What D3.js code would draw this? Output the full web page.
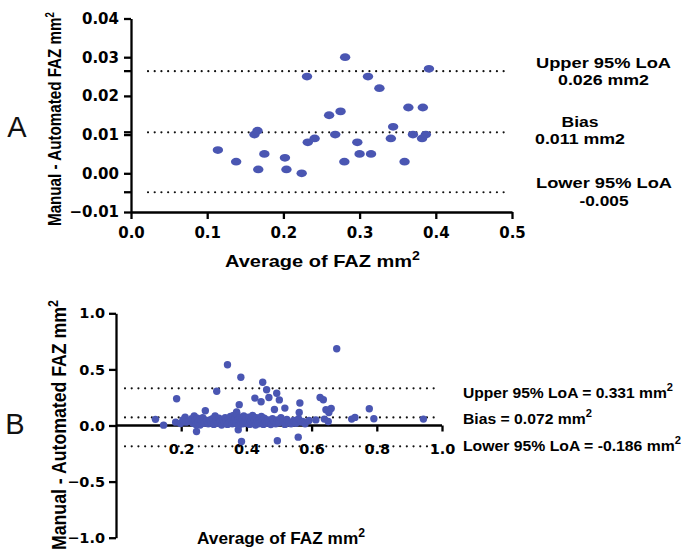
<!DOCTYPE html>
<html><head><meta charset="utf-8">
<script src="https://cdn.jsdelivr.net/npm/d3@7"></script>
<style>body{margin:0;background:#fff}svg{display:block}</style>
</head><body>
<svg id="c" width="685" height="559"></svg>
<script>
// ---------- Panel A data ----------
const aAverage = [0.114,0.138,0.167,0.162,0.166,0.175,0.202,0.204,0.224,0.231,0.232,0.241,0.260,0.268,0.275,0.281,0.280,0.297,0.300,0.311,0.315,0.326,0.341,0.344,0.359,0.364,0.370,0.383,0.382,0.387,0.391];
const aDiff    = [0.006,0.003,0.001,0.010,0.011,0.005,0.004,0.001,0.000,0.025,0.008,0.009,0.015,0.010,0.016,0.030,0.003,0.008,0.005,0.025,0.005,0.022,0.009,0.012,0.003,0.017,0.010,0.017,0.009,0.010,0.027];
const aXTicks = [0,0.1,0.2,0.3,0.4,0.5];
const aYTicks = [-0.01,0,0.01,0.02,0.03,0.04];
const aLines  = [0.0264,0.0106,-0.0049];   // upper LoA, bias, lower LoA

// ---------- Panel B data ----------
const bAverage = [0.121,0.146,0.186,0.183,0.198,0.212,0.247,0.274,0.309,0.342,0.383,0.378,0.370,0.375,0.385,
 0.426,0.450,0.462,0.469,0.493,0.501,0.445,0.486,0.518,0.564,0.562,0.626,0.636,0.644,0.660,0.653,0.495,0.559,0.573,0.613,0.639,0.651,0.677,0.777,0.723,0.733,0.791,0.943,
 0.205,0.215,
 0.225,0.232,0.236,0.240,0.243,0.245,0.250,0.252,0.256,0.258,0.262,0.266,
 0.270,0.278,0.283,0.288,0.292,0.296,0.300,0.304,0.308,0.312,0.316,0.320,0.324,0.328,
 0.332,0.335,0.338,0.342,0.345,0.348,0.351,0.354,0.357,0.360,0.362,0.365,0.368,0.371,0.374,0.377,0.380,0.383,0.386,0.389,0.392,0.395,0.398,
 0.401,0.404,0.407,0.410,0.413,0.416,0.419,0.422,0.425,0.428,0.431,0.434,0.437,0.440,0.443,0.446,0.449,0.452,0.455,0.458,0.462,0.466,
 0.470,0.475,0.480,0.485,0.490,0.495,0.500,0.506,0.512,0.518,0.524,0.530,0.537,0.545,0.552,0.560,0.568,0.580,0.592];
const bDiff = [0.055,0.003,0.238,0.030,0.018,0.075,-0.053,0.131,0.305,0.541,0.430,0.186,0.120,-0.038,-0.142,
 0.244,0.385,0.318,0.250,0.288,0.228,0.212,0.142,0.155,0.200,0.116,0.250,0.230,0.140,0.152,0.116,-0.136,-0.104,0.036,0.050,0.057,0.036,0.684,0.149,0.057,0.072,0.060,0.057,
 0.050,0.030,
 0.040,0.060,0.020,0.085,0.045,0.010,0.065,0.030,0.050,0.005,0.040,0.070,
 0.020,0.045,0.015,0.050,0.030,0.060,0.010,0.085,0.040,0.020,0.065,0.035,0.005,0.050,
 0.025,0.070,0.040,0.010,0.055,0.030,0.080,0.045,0.015,0.090,0.035,0.060,0.020,0.100,0.050,0.005,0.070,0.030,0.055,0.015,0.085,0.040,0.060,
 0.020,0.045,0.075,0.010,0.035,0.060,0.090,0.025,0.050,0.005,0.070,0.040,0.015,0.055,0.030,0.080,0.045,0.010,0.065,0.035,0.020,0.050,
 0.030,0.008,0.060,0.035,0.015,0.050,0.025,0.070,0.040,0.010,0.055,0.030,0.015,0.045,0.020,0.060,0.030,0.015,0.045];
const bXTicks = [0.2,0.4,0.6,0.8,1.0];
const bYTicks = [-1.0,-0.5,0.0,0.5,1.0];
const bLines  = [0.331,0.072,-0.186];

const dotColor = "#4a56b2";
const svg = d3.select("#c");
const boldWide = "'DejaVu Sans', sans-serif";
const arial = "'Liberation Sans', Arial, sans-serif";

function fit(sel, len){ sel.attr("textLength", len).attr("lengthAdjust","spacingAndGlyphs"); return sel; }
// condense a (rotated) text by a horizontal scale so its length equals len
function fitScale(sel, len, base){
  const nat = sel.node().getComputedTextLength();
  sel.attr("transform", `${base} scale(${(len/nat).toFixed(4)},1)`);
}
function styleAxis(g){
  g.select(".domain").attr("stroke","#000").attr("stroke-width",2.3);
  g.selectAll(".tick line").attr("stroke","#000").attr("stroke-width",2.3);
  g.selectAll(".tick text").attr("fill","#000").attr("font-weight","bold");
}
function dotted(g, x1, x2, y){
  g.append("line").attr("x1",x1).attr("x2",x2).attr("y1",y).attr("y2",y)
    .attr("stroke","#111").attr("stroke-width",2.2).attr("stroke-linecap","round")
    .attr("stroke-dasharray","0.01 6.7");
}

// ================= Panel A =================
const ax = d3.scaleLinear().domain([0,0.5]).range([131,512]);
const ay = d3.scaleLinear().domain([-0.01,0.04]).range([212,18.5]);
const gA = svg.append("g");

aLines.forEach(v => dotted(gA, 148, 505, ay(v)));

const aYAxis = gA.append("g").attr("transform","translate(131,0)")
  .call(d3.axisLeft(ay).tickValues(aYTicks).tickFormat(d3.format(".2f")).tickSize(7).tickSizeOuter(0).tickPadding(5));
styleAxis(aYAxis);
aYAxis.selectAll(".tick text").attr("font-family",boldWide).attr("font-size",15);
aYAxis.selectAll(".loa").data(aLines).enter().append("line").attr("class","loa")
  .attr("x1",-7).attr("x2",0).attr("y1",d=>ay(d)).attr("y2",d=>ay(d))
  .attr("stroke","#000").attr("stroke-width",2.3);

const aXAxis = gA.append("g").attr("transform","translate(0,212)")
  .call(d3.axisBottom(ax).tickValues(aXTicks).tickFormat(d3.format(".1f")).tickSize(7).tickSizeOuter(0).tickPadding(8));
styleAxis(aXAxis);
aXAxis.selectAll(".tick text").attr("font-family",boldWide).attr("font-size",15);

gA.selectAll("ellipse").data(aAverage).enter().append("ellipse")
  .attr("cx",d=>ax(d)).attr("cy",(d,i)=>ay(aDiff[i])).attr("rx",5.2).attr("ry",3.9)
  .attr("fill",dotColor);

const aYT = gA.append("text")
  .attr("font-family",arial).attr("font-weight","bold").attr("font-size",19).attr("fill","#000");
aYT.append("tspan").text("Manual - Automated FAZ mm");
aYT.append("tspan").attr("dy",-7).attr("font-size",12).text("2");
fitScale(aYT, 214, "translate(61,226) rotate(-90)");

const aXT = gA.append("text").attr("x",225).attr("y",267)
  .attr("font-family",arial).attr("font-weight","bold").attr("font-size",17).attr("fill","#000");
aXT.append("tspan").text("Average of FAZ mm");
aXT.append("tspan").attr("dy",-7).attr("font-size",12).text("2");
fit(aXT, 195);

const aNotes = [
  {t:"Upper 95% LoA", x:603.5, y:67.5, w:135},
  {t:"0.026 mm2", x:603.5, y:85, w:91},
  {t:"Bias", x:580, y:126.5, w:37},
  {t:"0.011 mm2", x:580, y:144, w:90},
  {t:"Lower 95% LoA", x:604, y:188, w:136},
  {t:"-0.005", x:604, y:205.5, w:49}
];
aNotes.forEach(n => {
  fit(gA.append("text").attr("x",n.x).attr("y",n.y).attr("text-anchor","middle")
    .attr("font-family",arial).attr("font-weight","bold").attr("font-size",14).attr("fill","#000").text(n.t), n.w);
});
gA.append("text").attr("x",17).attr("y",137).attr("text-anchor","middle")
  .attr("font-family",arial).attr("font-size",29).attr("fill","#111").text("A");

// ================= Panel B =================
const bx = d3.scaleLinear().domain([0,1.0]).range([116,442]);
const by = d3.scaleLinear().domain([-1,1]).range([537.7,313.3]);
const gB = svg.append("g");

bLines.forEach(v => dotted(gB, 125, 437, by(v)));

const bYAxis = gB.append("g").attr("transform","translate(116,0)")
  .call(d3.axisLeft(by).tickValues(bYTicks).tickFormat(d3.format(".1f")).tickSize(7).tickSizeOuter(0).tickPadding(4));
styleAxis(bYAxis);
bYAxis.selectAll(".tick text").attr("font-family",boldWide).attr("font-size",14.5);

const bXAxis = gB.append("g").attr("transform",`translate(0,${by(0)})`)
  .call(d3.axisBottom(bx).tickValues(bXTicks).tickFormat(d3.format(".1f")).tickSize(6).tickSizeOuter(0));
styleAxis(bXAxis);
bXAxis.select(".domain").attr("d", `M${bx(0)},0H${bx(1.0)}`);
bXAxis.selectAll(".tick text").attr("font-family",boldWide).attr("font-size",14.5)
  .attr("y",23).attr("dy","0.35em");

gB.selectAll("circle").data(bAverage).enter().append("circle")
  .attr("cx",d=>bx(d)).attr("cy",(d,i)=>by(bDiff[i])).attr("r",3.7)
  .attr("fill",dotColor);

const bYT = gB.append("text")
  .attr("font-family",arial).attr("font-weight","bold").attr("font-size",20).attr("fill","#000");
bYT.append("tspan").text("Manual - Automated FAZ mm");
bYT.append("tspan").attr("dy",-8).attr("font-size",14).text("2");
fitScale(bYT, 250, "translate(66,550) rotate(-90)");

const bXT = gB.append("text").attr("x",197).attr("y",544)
  .attr("font-family",arial).attr("font-weight","bold").attr("font-size",17).attr("fill","#000");
bXT.append("tspan").text("Average of FAZ mm");
bXT.append("tspan").attr("dy",-7).attr("font-size",12).text("2");
fit(bXT, 168);

const bNotes = [
  {t:"Upper 95% LoA = 0.331 mm", y:397.5, w:210},
  {t:"Bias = 0.072 mm", y:424, w:129},
  {t:"Lower 95% LoA = -0.186 mm", y:451, w:218}
];
bNotes.forEach(n => {
  const t = gB.append("text").attr("x",463).attr("y",n.y)
    .attr("font-family",arial).attr("font-weight","bold").attr("font-size",15.5).attr("fill","#000");
  t.append("tspan").text(n.t);
  t.append("tspan").attr("dy",-7).attr("font-size",11).text("2");
  fit(t, n.w);
});
gB.append("text").attr("x",15).attr("y",434).attr("text-anchor","middle")
  .attr("font-family",arial).attr("font-size",29).attr("fill","#111").text("B");
</script>
</body></html>
